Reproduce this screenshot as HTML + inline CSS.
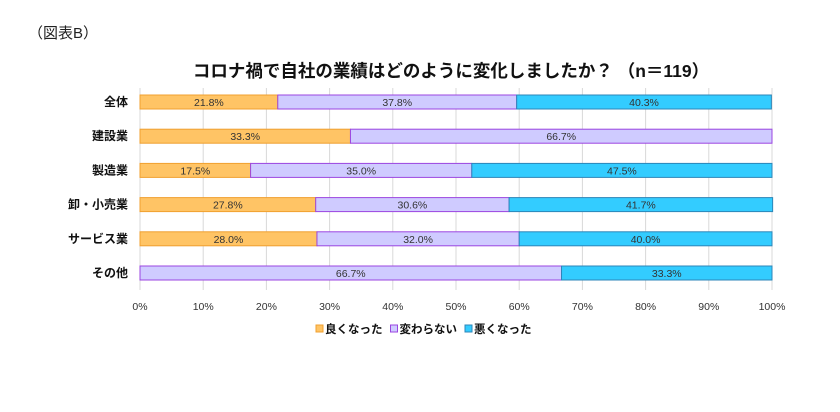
<!DOCTYPE html>
<html><head><meta charset="utf-8"><style>
body{margin:0;background:#fff;font-family:"Liberation Sans","Noto Sans CJK JP",sans-serif;}
</style></head><body>
<svg width="840" height="407" xmlns="http://www.w3.org/2000/svg" font-family="Liberation Sans, Noto Sans CJK JP, sans-serif">
<text x="28" y="38" font-size="15" fill="#222">（図表B）</text>
<text x="451" y="77" font-size="17.5" font-weight="bold" text-anchor="middle" fill="#111">コロナ禍で自社の業績はどのように変化しましたか？ （n＝119）</text>
<g id="grid"></g><g id="bars"></g><g id="axis"></g><g id="legend"></g>
</svg>
<script>
const categories=["全体","建設業","製造業","卸・小売業","サービス業","その他"];
const seriesNames=["良くなった","変わらない","悪くなった"];
const good=[21.8,33.3,17.5,27.8,28.0,0];
const same=[37.8,66.7,35.0,30.6,32.0,66.7];
const bad=[40.3,0,47.5,41.7,40.0,33.3];
const ticks=[0,10,20,30,40,50,60,70,80,90,100];
const fills=["#FFC465","#CFCBFF","#33CCFF"],strokes=["#F0A030","#9B45E0","#2C86B8"];
const NS="http://www.w3.org/2000/svg";
const x=v=>140+v*6.32, y=i=>102+i*34.2;
function mk(p,t,a){const e=document.createElementNS(NS,t);for(const k in a)e.setAttribute(k,a[k]);document.getElementById(p).appendChild(e);return e;}
ticks.forEach(t=>{
 const l=mk("grid","line",{x1:x(t),x2:x(t),y1:88,y2:290,stroke:"#d8d8d8"});
 
 
 const tx=mk("axis","text",{x:x(t),y:310,"font-size":"10.5","text-anchor":"middle",fill:"#333"});
 tx.textContent=t+"%";
 
 
});
categories.forEach((c,i)=>{
 const lab=mk("axis","text",{x:128,y:y(i)+4,"font-size":"12","font-weight":"bold","text-anchor":"end",fill:"#111"});
 lab.textContent=c;
 
 
 let acc=0;
 [good,same,bad].forEach((s,k)=>{
  const v=s[i]; if(!v){return;}
  const r=mk("bars","rect",{x:x(acc),y:y(i)-7,width:x(acc+v)-x(acc),height:14,fill:fills[k],stroke:strokes[k],"stroke-width":1});
  
  
  const t=mk("bars","text",{x:(x(acc)+x(acc+v))/2,y:y(i)+4,"font-size":"10.5","text-anchor":"middle",fill:"#333"});
  t.textContent=v.toFixed(1)+"%";
  
  
  acc+=v;
 });
});
let lx=316;
seriesNames.forEach((n,k)=>{
 const r=mk("legend","rect",{x:lx,y:325,width:7,height:7,fill:fills[k],stroke:strokes[k]});
 
 
 const t=mk("legend","text",{x:lx+9,y:333,"font-size":"11.5","font-weight":"bold",fill:"#111"});
 t.textContent=n;
 
 
 lx+=9+n.length*11.5+8;
});
</script>
</body></html>
